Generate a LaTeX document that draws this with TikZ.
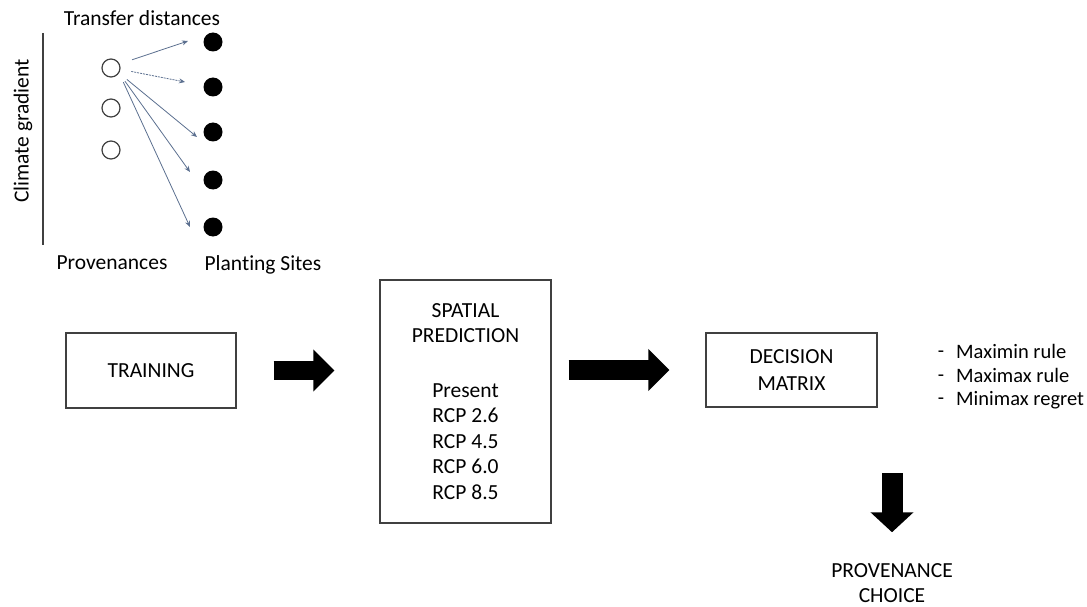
\documentclass[tikz,border=0pt]{standalone}
\usepackage{fontspec}
\setmainfont{Carlito}[Ligatures=NoCommon]
\usepackage{tikz}
\usetikzlibrary{arrows.meta,positioning}
\definecolor{slate}{HTML}{5B6F8F}

\begin{document}
\begin{tikzpicture}[x=1pt,y=-1pt,
font=\fontsize{21.5}{25.5}\selectfont,
box/.style={draw=black!75,line width=1.3pt,align=center,inner sep=0pt},
prov/.style={circle,draw=black!75,line width=1.2pt,minimum size=18pt,inner sep=0pt},
site/.style={circle,fill=black,minimum size=19pt,inner sep=0pt},
flow/.style={draw=slate,line width=0.8pt,-{Stealth[length=6pt,width=5pt]}},
blockarrow/.style={line width=19pt,-{Triangle[length=21pt,width=41pt]}},]
\useasboundingbox (0,0) rectangle (1087,607);

% transfer distances
\node (dist) at (142,18) {Transfer distances};
\node (gradient) at (23,131) [rotate=90] {Climate gradient};
\draw[black!75,line width=1.2pt] (43,33) -- (43,245);
\node[prov] (p1) at (111,68) {};
\node[prov] (p2) at (111,108) {};
\node[prov] (p3) at (111,150) {};
\foreach \y [count=\i] in {42,87,132,180,227}
    \node[site] (s\i) at (213,\y) {};
\node (provenances) at (112,263) {Provenances};
\node (sites) at (263,265) {Planting Sites};
\coordinate (t1) at (188,41);
\coordinate (t2) at (185,82);
\coordinate (t3) at (197,137);
\coordinate (t4) at (190,172);
\coordinate (t5) at (190,227);
\draw[flow,shorten <=13pt] (p1.25) -- (t1);
\draw[flow,dash pattern=on 2pt off 1pt,shorten <=11pt] (p1.-8) -- (t2);
\foreach \i in {3,4,5}
    \draw[flow,shorten <=10pt] (p1.-32) -- (t\i);

% workflow
\node[box,minimum width=170pt,minimum height=75pt] (train) at (151,370.5) {TRAINING};
\node[box,minimum width=171pt,minimum height=243pt] (spatial) at (465.5,401.5)
    {SPATIAL\\PREDICTION\\[29pt]Present\\RCP 2.6\\RCP 4.5\\RCP 6.0\\RCP 8.5};
\node[box,minimum width=171pt,minimum height=74pt] (decision) at (791.5,370)
    {DECISION\\[1.5pt]MATRIX};
\node[align=left,anchor=west,inner sep=0pt,font=\fontsize{20.5}{23.5}\selectfont] (rules) at (956,377)
    {Maximin rule\\Maximax rule\\Minimax regret};
\node[align=center,font=\fontsize{20.5}{23.5}\selectfont] (dashes) at (941,378) {-\\-\\-};
\node[align=center,inner sep=0pt,font=\fontsize{21.5}{25}\selectfont] (choice) at (892,583) {PROVENANCE\\CHOICE};
\coordinate (drop) at (892,473);

\draw[blockarrow,shorten <=37pt,shorten >=45pt] (train.east) -- (train.east -| spatial.west);
\draw[blockarrow,line width=20pt,shorten <=17pt,shorten >=36pt] (decision.west -| spatial.east) -- (decision.west);
\draw[blockarrow,line width=21pt,-{Triangle[length=20pt,width=42pt]},shorten >=31pt] (drop) -- (choice.north);
\end{tikzpicture}
\end{document}
